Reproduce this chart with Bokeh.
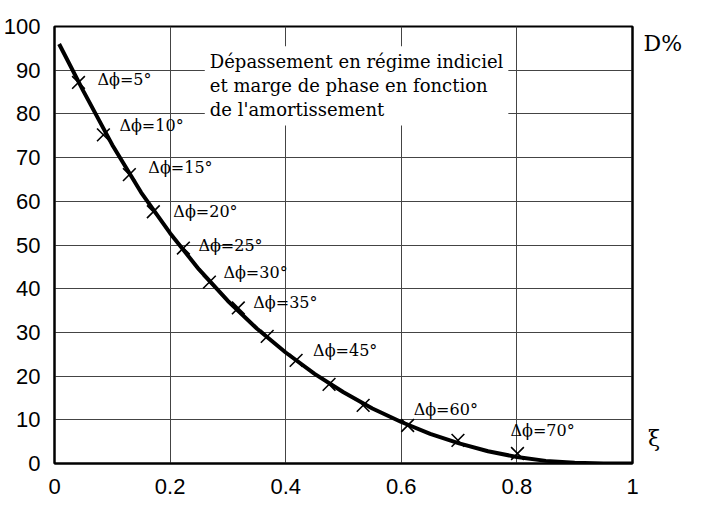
from bokeh.plotting import figure
from bokeh.models import FixedTicker, ColumnDataSource, Range1d, LinearAxis, Label
from bokeh.core.properties import value
from bokeh.embed import file_html
from bokeh.resources import INLINE

# curve D% vs damping xi
curve_xi = [0.008, 0.05, 0.1, 0.15, 0.2, 0.25, 0.3, 0.35, 0.4, 0.45, 0.5, 0.55,
            0.6, 0.65, 0.7, 0.75, 0.8, 0.85, 0.9, 0.95, 1.0]
curve_d = [96.0, 85.2, 72.9, 62.0, 52.7, 44.4, 37.2, 30.9, 25.4, 20.5, 16.3, 12.6,
           9.5, 6.8, 4.6, 2.8, 1.5, 0.6, 0.15, 0.02, 0.0]

# phase margin markers
mark_xi = [0.0415, 0.0846, 0.1295, 0.171, 0.223, 0.268, 0.318, 0.368, 0.418,
           0.475, 0.534, 0.611, 0.698, 0.801]
mark_d = [87.2, 75.2, 66.1, 57.6, 49.3, 41.5, 35.6, 29.1, 23.6, 18.1, 13.3, 8.7, 5.3, 2.3]
mark_labels = ["Δϕ=5°", "Δϕ=10°", "Δϕ=15°", "Δϕ=20°", "Δϕ=25°", "Δϕ=30°", "Δϕ=35°",
               "", "Δϕ=45°", "", "", "Δϕ=60°", "", "Δϕ=70°"]

x_ticks = [0, 0.2, 0.4, 0.6, 0.8, 1]
y_ticks = [0, 10, 20, 30, 40, 50, 60, 70, 80, 90, 100]

# axis names placed at the right edge
name_pos = [96, 5.7]
name_text = ["D%", "\u2009ξ"]

# label offsets in pixels (style)
lab_dx = [19, 16, 19, 20, 15, 14, 15, 0, 17, 0, 0, 6, 0, -7]
lab_dy = [-3, -9, -7, 0, -3, -10, -5, 0, -10, 0, 0, -16, 0, -23]

SERIF = "DejaVu Serif"
SANS = "Liberation Sans"

p = figure(width=703, height=512, output_backend="svg", toolbar_location=None,
           x_range=Range1d(0, 1), y_range=Range1d(0, 100),
           min_border_left=53, min_border_right=71, min_border_top=26,
           min_border_bottom=49)
p.background_fill_color = "white"
p.border_fill_color = "white"
p.outline_line_color = "black"
p.outline_line_width = 2

for ax in (p.xaxis[0], p.yaxis[0]):
    ax.axis_line_width = 2
    ax.axis_line_color = "black"
    ax.major_tick_line_color = None
    ax.minor_tick_line_color = None
    ax.major_label_text_font = SANS
    ax.major_label_text_font_size = "22px"
    ax.major_label_text_color = "black"

p.xaxis[0].ticker = FixedTicker(ticks=x_ticks)
p.yaxis[0].ticker = FixedTicker(ticks=y_ticks)
p.xaxis[0].major_label_overrides = {0: "0", 1: "1"}
p.xaxis[0].major_label_standoff = 9
p.yaxis[0].major_label_standoff = 8

p.xgrid[0].ticker = FixedTicker(ticks=x_ticks)
p.ygrid[0].ticker = FixedTicker(ticks=y_ticks)
for g in (p.xgrid[0], p.ygrid[0]):
    g.grid_line_color = "#444444"
    g.grid_line_width = 1

# right axis carrying the names "D%" and "ξ"
rax = LinearAxis(ticker=FixedTicker(ticks=name_pos),
                 major_label_overrides={name_pos[0]: name_text[0], name_pos[1]: name_text[1]},
                 axis_line_color="black", axis_line_width=2,
                 major_tick_line_color=None, minor_tick_line_color=None,
                 major_label_text_font=SERIF, major_label_text_font_size="22px",
                 major_label_text_color="black", major_label_standoff=5)
p.add_layout(rax, "right")

# title block with white background
title = Label(x=0.26, y=95.5, x_units="data", y_units="data",
              text="Dépassement en régime indiciel\net marge de phase en fonction\nde l'amortissement",
              text_font=SERIF, text_font_size="18px", text_color="black",
              text_baseline="top", text_line_height=1.15,
              background_fill_color="white", padding=5)
p.add_layout(title)

p.line(curve_xi, curve_d, line_width=4, line_color="black")

src = ColumnDataSource(dict(x=mark_xi, y=mark_d, t=mark_labels, dx=lab_dx, dy=lab_dy))
p.scatter("x", "y", source=src, marker="x", size=18, line_width=1.6, line_color="black")
p.text("x", "y", text="t", source=src, x_offset="dx", y_offset="dy",
       text_font=value(SERIF), text_font_size="16px", text_baseline="middle",
       text_align="left", text_color="black")

open("out.html", "w").write(file_html(p, INLINE))
